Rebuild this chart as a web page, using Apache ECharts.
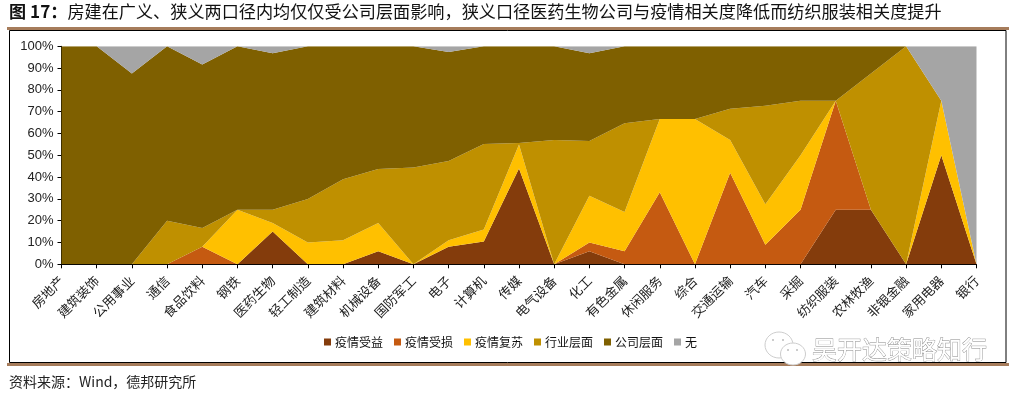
<!DOCTYPE html>
<html><head><meta charset="utf-8">
<style>html,body{margin:0;padding:0;background:#fff}#c{width:1019px;height:395px}</style>
<script src="https://cdn.jsdelivr.net/npm/echarts@6/dist/echarts.min.js"></script>
</head><body><div id="c"></div>
<script>
const categories=['房地产','建筑装饰','公用事业','通信','食品饮料','钢铁','医药生物','轻工制造','建筑材料','机械设备','国防军工','电子','计算机','传媒','电气设备','化工','有色金属','休闲服务','综合','交通运输','汽车','采掘','纺织服装','农林牧渔','非银金融','家用电器','银行'];
const benefit=[0,0,0,0,0,0,15,0,0,6,0,8,10.5,44,0,6,0,0,0,0,0,0,25,25,0,50,0];
const loss=[0,0,0,0,8,0,0,0,0,0,0,0,0,0,0,4,6,33,0,42,9,25,50,0,0,0,0];
const recovery=[0,0,0,0,0,25,4,10,11,13,0,3,5.5,11,0,21.5,18,33.7,66.7,15,18.5,25,0,0,0,25,0];
const industry=[0,0,0,20,8.7,0,6,20,28,24.7,44.4,36.4,39.2,0.6,57,25.1,40.7,0,0,14.4,45.2,25,0,62.5,100,0,0];
const company=[100,100,87.5,80,75,75,71.8,70,61,56.3,55.6,50,44.8,44.4,43,40.2,35.3,33.3,33.3,28.6,27.3,25,25,12.5,0,0,0];
const none=[0,0,12.5,0,8.3,0,3.2,0,0,0,0,2.6,0,0,0,3.2,0,0,0,0,0,0,0,0,0,25,100];
const seriesNames=['疫情受益','疫情受损','疫情复苏','行业层面','公司层面','无'];
const seriesData=[benefit,loss,recovery,industry,company,none];
const colors=['#843C0C','#C55A11','#FFC000','#BF9000','#7F6000','#A5A5A5'];
const titleHead='图 17\uFF1A';
const titleBody='房建在广义、狭义两口径内均仅仅受公司层面影响\uFF0C狭义口径医药生物公司与疫情相关度降低而纺织服装相关度提升';
const sourceText='资料来源\uFF1AWind\uFF0C德邦研究所';
const watermark='吴开达策略知行';
const font='"Noto Sans CJK SC","Liberation Sans",sans-serif';
const chart=echarts.init(document.getElementById('c'),null,{renderer:'canvas'});
chart.setOption({
 animation:false,
 title:{text:'{h|'+titleHead+'}{b|'+titleBody+'}',left:9,top:0,padding:[3,0,0,0],
  textStyle:{rich:{h:{fontFamily:font,fontSize:17.15,fontWeight:'bold',color:'#111'},b:{fontFamily:font,fontSize:17.15,fontWeight:'normal',color:'#111'}}}},
 grid:{left:61.5,right:42.5,top:46.3,bottom:130.7,containLabel:false},
 color:colors,
 legend:{show:true,left:319,top:331,itemWidth:7,itemHeight:7,itemGap:11,icon:'rect',
  textStyle:{fontFamily:font,fontSize:12,color:'#111',padding:[0,0,0,-1]},data:seriesNames},
 xAxis:{type:'category',boundaryGap:false,data:categories,
  axisLine:{lineStyle:{color:'#000',width:1}},axisTick:{alignWithLabel:true,length:4,lineStyle:{color:'#000'}},
  axisLabel:{interval:0,rotate:45,fontFamily:font,fontSize:13,color:'#222',margin:14,hideOverlap:false,showMinLabel:true,showMaxLabel:true}},
 yAxis:{type:'value',min:0,max:100,interval:10,
  axisLine:{show:true,lineStyle:{color:'#000',width:1}},axisTick:{show:true,length:4,lineStyle:{color:'#000'}},
  splitLine:{show:false},
  axisLabel:{formatter:'{value}%',fontFamily:'"Liberation Sans",sans-serif',fontSize:13,color:'#222',margin:8}},
 series:seriesNames.map((n,i)=>({name:n,type:'line',stack:'total',data:seriesData[i],showSymbol:false,symbol:'none',
   lineStyle:{width:0},areaStyle:{color:colors[i],opacity:1},itemStyle:{color:colors[i]},z:2+i})),
 graphic:[
  {type:'rect',silent:true,z:0,shape:{x:9.5,y:30.5,width:996.5,height:332},style:{fill:'none',stroke:'#000',lineWidth:1}},
  {type:'rect',silent:true,z:1,shape:{x:7,y:27,width:1002,height:3},style:{fill:'#A67C5B'}},
  {type:'rect',silent:true,z:1,shape:{x:7,y:363,width:1002,height:3},style:{fill:'#A67C5B'}},
  {type:'text',silent:true,z:10,x:9,y:375,style:{text:sourceText,fontFamily:font,fontSize:14,fill:'#222'}},
  {type:'ellipse',silent:true,z:10,shape:{cx:779,cy:345,rx:14,ry:13},style:{fill:'#fff',stroke:'#ccc',lineWidth:1}},
  {type:'ellipse',silent:true,z:11,shape:{cx:793,cy:354,rx:12.5,ry:11},style:{fill:'#fff',stroke:'#ccc',lineWidth:1}},
  {type:'circle',silent:true,z:12,shape:{cx:773,cy:340,r:1},style:{fill:'#bbb'}},
  {type:'circle',silent:true,z:12,shape:{cx:783,cy:340,r:1},style:{fill:'#bbb'}},
  {type:'circle',silent:true,z:12,shape:{cx:788,cy:350,r:1},style:{fill:'#bbb'}},
  {type:'circle',silent:true,z:12,shape:{cx:797,cy:350,r:1},style:{fill:'#bbb'}},
  {type:'text',silent:true,z:12,x:812,y:337,style:{text:watermark,fontFamily:font,fontSize:25,fill:'#fff',stroke:'#8a8a8a',lineWidth:0.8}}
 ]
});
</script></body></html>
